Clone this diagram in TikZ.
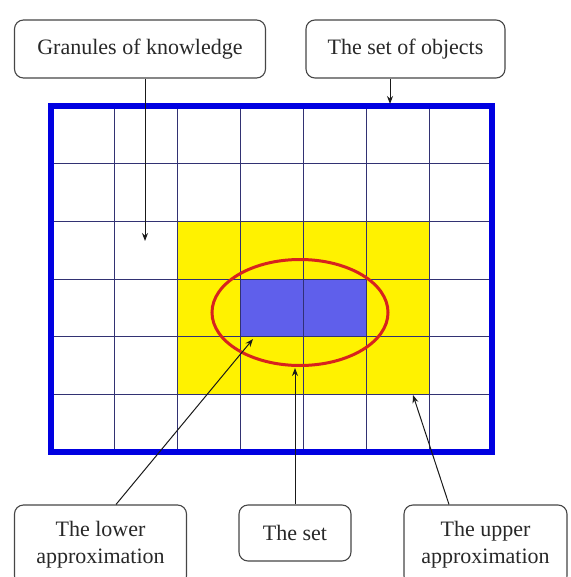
\documentclass[tikz,border=0pt]{standalone}
\usepackage{fontspec}
\setmainfont{Liberation Serif}
\usetikzlibrary{arrows.meta,shapes.geometric}
\definecolor{gridline}{RGB}{50,50,115}
\definecolor{frameblue}{RGB}{0,0,225}
\definecolor{setblue}{RGB}{95,95,235}
\definecolor{ellred}{RGB}{215,35,30}
\definecolor{boxline}{RGB}{70,70,70}
\definecolor{txt}{RGB}{40,40,40}
\begin{document}
\begin{tikzpicture}[x=1pt,y=-1pt,
  lbl/.style={draw=boxline, line width=1.1pt, rounded corners=9pt, fill=white,
    text=txt, align=center, inner sep=0pt, font=\fontsize{22}{27}\selectfont},
  arr/.style={draw=black!90, line width=1pt, -{Stealth[length=8pt,width=6pt]}},
  gridl/.style={draw=gridline, line width=0.9pt}]
\useasboundingbox (0,0) rectangle (570,577);
\clip (0,0) rectangle (570,577);
% regions
\fill[yellow] (177,221.3) rectangle (429,394.3);
\fill[setblue] (240,279) rectangle (366,336.7);
% grid
\foreach \x in {114,177,240,303,366,429} \draw[gridl] (\x,106) -- (\x,452);
\foreach \y in {163.7,221.3,279,336.7,394.3} \draw[gridl] (51,\y) -- (492,\y);
% frame
\node[draw=frameblue, line width=5.5pt, minimum width=441pt, minimum height=346pt, inner sep=0pt] (frame) at (271.5,279) {};
% set ellipse
\node[ellipse, draw=ellred, line width=3pt, minimum width=176pt, minimum height=106pt, inner sep=0pt] (theset) at (300,312.5) {};
% labels
\node[lbl, minimum width=251pt, minimum height=58pt] (gran) at (140,49) {Granules of knowledge};
\node[lbl, minimum width=199pt, minimum height=58pt] (objs) at (405.5,49) {The set of objects};
\node[lbl, minimum width=172pt, minimum height=80pt] (lower) at (100.5,545) {The lower\\approximation};
\node[lbl, minimum width=112pt, minimum height=56pt] (setlbl) at (295,533) {The set};
\node[lbl, minimum width=163pt, minimum height=80pt] (upper) at (485.5,545) {The upper\\approximation};
% arrow targets
\coordinate (gtip) at (145,241);
\coordinate (otip) at (390,104);
\coordinate (ltip) at (253,339);
\coordinate (stip) at (295,368);
\coordinate (utip) at (413,395);
% connectors
\draw[arr] (gran.south -| gtip) -- (gtip);
\draw[arr] (objs.south -| otip) -- (otip);
\draw[arr] ([xshift=15.5pt]lower.north) -- (ltip);
\draw[arr] (setlbl.north) -- (stip);
\draw[arr] ([xshift=-36.5pt]upper.north) -- (utip);
\end{tikzpicture}
\end{document}
